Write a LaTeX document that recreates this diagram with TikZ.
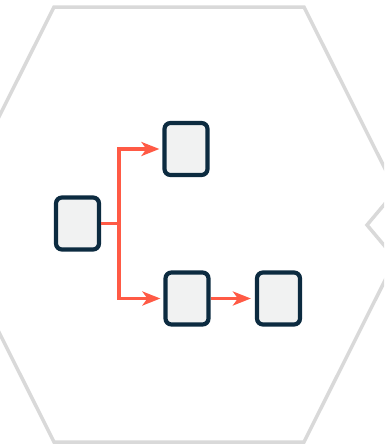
\documentclass[tikz,border=0pt]{standalone}
\usetikzlibrary{arrows.meta}
\definecolor{hexgray}{HTML}{D9D9D9}
\definecolor{navy}{HTML}{0C2B40}
\definecolor{boxfill}{HTML}{F1F2F2}
\definecolor{arrred}{HTML}{FF5A45}
\begin{document}
\begin{tikzpicture}[x=1pt,y=-1pt,
  hexline/.style={draw=hexgray,line width=3.5pt,line join=miter},
  stepbox/.style={draw=navy,fill=boxfill,line width=4.2pt,rounded corners=6pt,
    minimum width=43pt,minimum height=52pt,inner sep=0pt},
  link/.style={draw=arrred,line width=3.6pt},
  arr/.style={link,-{Stealth[length=18pt,width=14pt,inset=5pt]}}]
\useasboundingbox (0,0) rectangle (384,445);
\clip (0,0) rectangle (384,445);
% main hexagon
\draw[hexline] (54,7) -- (304,7) -- (413,224.5) -- (304,442) -- (54,442) -- (-55,224.5) -- cycle;
% neighbouring hexagon (left tip)
\draw[hexline] (420,162) -- (367,225) -- (420,288);
% boxes
\node[stepbox] (L) at (77.5,223.5) {};
\node[stepbox] (T) at (186,149) {};
\node[stepbox] (M) at (187,298.5) {};
\node[stepbox] (R) at (278.5,298.5) {};
\coordinate (J) at (119,223.5);
% connectors
\draw[link] (L) -- (J);
\draw[arr,shorten >=3pt] (J) |- (T);
\draw[arr,shorten >=3pt] (J) |- (M);
\draw[arr,shorten >=4pt] (M) -- (R);
\end{tikzpicture}
\end{document}
